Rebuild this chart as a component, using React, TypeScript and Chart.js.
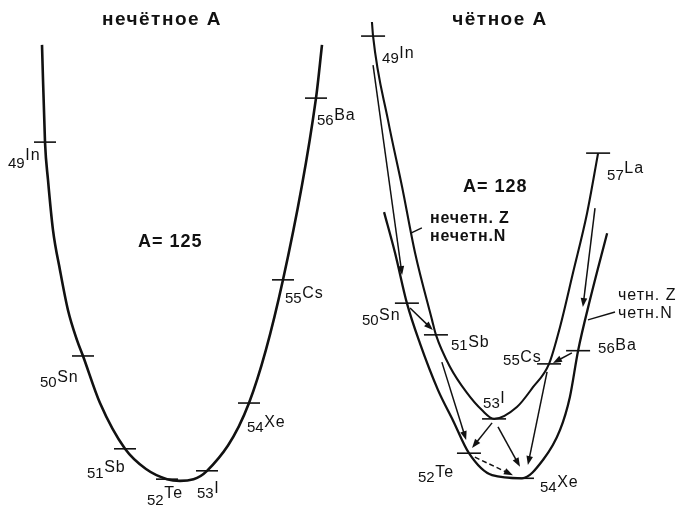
import React, { useEffect, useRef } from "react";
import { Chart, registerables } from "chart.js";
Chart.register(...registerables);

// ---------- Left panel: odd A (A = 125) ----------
const oddZ = [49, 50, 51, 52, 53, 54, 55, 56];
const oddSymbols = ["In", "Sn", "Sb", "Te", "I", "Xe", "Cs", "Ba"];
const oddTickPos = [49.0, 49.95, 51.0, 52.05, 53.05, 54.1, 54.95, 55.775];
const oddTickE = [7.77, 2.91, 0.8, 0.11, 0.3, 1.84, 4.64, 8.77];
const oddCurvePos = [48.925, 49.0, 49.075, 49.2, 49.375, 49.575, 49.8, 49.95, 50.375, 51.0, 51.525, 52.05, 52.375, 53.05, 54.1, 54.95, 55.775, 55.925];
const oddCurveE = [9.98, 7.77, 6.91, 5.77, 4.86, 3.95, 3.27, 2.91, 1.84, 0.8, 0.34, 0.11, 0.07, 0.3, 1.84, 4.64, 8.77, 9.98];

// ---------- Right panel: even A (A = 128) ----------
// odd Z / odd N parabola
const ooZ = [49, 51, 53, 55, 57];
const ooSymbols = ["In", "Sb", "I", "Cs", "La"];
const ooTickPos = [48.79, 51.02, 53.08, 55.03, 56.77];
const ooTickE = [10.18, 3.39, 1.48, 2.73, 7.52];
const ooCurvePos = [48.75, 48.79, 49.32, 49.82, 50.28, 50.88, 51.02, 51.52, 52.12, 52.65, 53.08, 53.89, 54.46, 55.03, 55.42, 55.88, 56.38, 56.77];
const ooCurveE = [10.5, 10.18, 8.27, 6.75, 5.25, 3.73, 3.39, 2.66, 2.07, 1.68, 1.48, 1.75, 2.2, 2.73, 3.57, 4.8, 6.16, 7.52];
// even Z / even N parabola
const eeZ = [50, 52, 54, 56];
const eeSymbols = ["Sn", "Te", "Xe", "Ba"];
const eeTickPos = [49.99, 52.19, 54.07, 56.06];
const eeTickE = [4.11, 0.7, 0.13, 3.03];
const eeCurvePos = [49.18, 49.57, 49.99, 50.45, 51.09, 51.62, 52.19, 53.01, 54.07, 54.82, 55.42, 55.77, 56.06, 56.48, 57.09];
const eeCurveE = [6.18, 5.25, 4.11, 3.2, 2.14, 1.45, 0.7, 0.2, 0.13, 0.55, 1.23, 1.98, 3.03, 4.18, 5.7];
// decay arrows
const arrowFromPos = [48.79, 50.1, 51.23, 53.01, 53.22, 52.4, 54.96, 55.84, 56.66];
const arrowFromE = [9.52, 4.0, 2.77, 1.39, 1.3, 0.61, 2.55, 2.98, 6.27];
const arrowToPos = [49.82, 50.91, 52.09, 52.3, 54.0, 53.75, 54.28, 55.17, 56.23];
const arrowToE = [4.75, 3.5, 1.0, 0.82, 0.39, 0.2, 0.43, 2.75, 4.02];
const arrowDashed = [false, false, false, false, false, true, false, false, false];
// leader lines for the parabola captions
const leaderFromPos = [50.52, 57.37];
const leaderFromE = [5.82, 3.91];
const leaderToPos = [50.13, 56.41];
const leaderToE = [5.7, 3.73];

// ---------- layout (styles / offsets, not data) ----------
const INK = "#111";
const FONT = '"Liberation Sans", Arial, sans-serif';
// label offsets: [dx of number, number baseline dy, symbol baseline dy]
const oddLabelOffsets = [[-37, 26, 18], [-43, 31, 26], [-38, 29, 23], [-20, 26, 19], [-10, 27, 22], [-2, 29, 24], [2, 23, 18], [1, 27, 22]];
const ooLabelOffsets = [[9, 27, 22], [15, 15, 12], [-11, -11, -16], [-46, 1, -2], [9, 27, 20]];
const eeLabelOffsets = [[-45, 22, 17], [-51, 29, 24], [18, 14, 9], [20, 2, -1]];

function pts(xs: number[], ys: number[]) {
  return xs.map((x, i) => ({ x, y: ys[i] }));
}

function drawArrow(ctx: CanvasRenderingContext2D, x1: number, y1: number, x2: number, y2: number, dashed: boolean) {
  const ang = Math.atan2(y2 - y1, x2 - x1);
  const head = 9;
  const half = 3.3;
  const c = Math.cos(ang), s = Math.sin(ang);
  ctx.save();
  ctx.strokeStyle = INK;
  ctx.fillStyle = INK;
  ctx.lineWidth = 1.5;
  if (dashed) ctx.setLineDash([5, 3]);
  ctx.beginPath();
  ctx.moveTo(x1, y1);
  ctx.lineTo(x2 - c * head * 0.7, y2 - s * head * 0.7);
  ctx.stroke();
  ctx.setLineDash([]);
  ctx.beginPath();
  ctx.moveTo(x2, y2);
  ctx.lineTo(x2 - head * c + half * s, y2 - head * s - half * c);
  ctx.lineTo(x2 - head * c - half * s, y2 - head * s + half * c);
  ctx.closePath();
  ctx.fill();
  ctx.restore();
}

type LabelSet = { z: number[]; sym: string[]; pos: number[]; e: number[]; off: number[][] };
type TextItem = { text: string; x: number; y: number; font: string; align?: CanvasTextAlign; spacing?: string };

function makePlugin(labels: LabelSet[], texts: TextItem[], arrows: boolean) {
  return {
    id: "decor",
    afterDatasetsDraw(chart: any) {
      const ctx: CanvasRenderingContext2D = chart.ctx;
      const xs = chart.scales.x;
      const ys = chart.scales.y;
      ctx.save();
      ctx.fillStyle = INK;
      ctx.strokeStyle = INK;
      ctx.textBaseline = "alphabetic";
      labels.forEach((set) => {
        set.z.forEach((z, i) => {
          const px = xs.getPixelForValue(set.pos[i]);
          const py = ys.getPixelForValue(set.e[i]);
          const [dx, ny, sy] = set.off[i];
          ctx.textAlign = "left";
          (ctx as any).letterSpacing = "0px";
          ctx.font = `15px ${FONT}`;
          const num = String(z);
          ctx.fillText(num, px + dx, py + ny);
          const w = ctx.measureText(num).width;
          ctx.font = `16px ${FONT}`;
          (ctx as any).letterSpacing = "1px";
          ctx.fillText(set.sym[i], px + dx + w + 0.5, py + sy);
        });
      });
      (ctx as any).letterSpacing = "0px";
      if (arrows) {
        arrowFromPos.forEach((fx, i) => {
          drawArrow(
            ctx,
            xs.getPixelForValue(fx),
            ys.getPixelForValue(arrowFromE[i]),
            xs.getPixelForValue(arrowToPos[i]),
            ys.getPixelForValue(arrowToE[i]),
            arrowDashed[i]
          );
        });
        ctx.lineWidth = 1.4;
        leaderFromPos.forEach((fx, i) => {
          ctx.beginPath();
          ctx.moveTo(xs.getPixelForValue(fx), ys.getPixelForValue(leaderFromE[i]));
          ctx.lineTo(xs.getPixelForValue(leaderToPos[i]), ys.getPixelForValue(leaderToE[i]));
          ctx.stroke();
        });
      }
      texts.forEach((t) => {
        ctx.font = t.font;
        ctx.textAlign = t.align || "left";
        (ctx as any).letterSpacing = t.spacing || "0px";
        ctx.fillText(t.text, t.x, t.y);
      });
      (ctx as any).letterSpacing = "0px";
      ctx.restore();
    },
  };
}

function curveDataset(xs: number[], ys: number[], width: number) {
  return {
    data: pts(xs, ys),
    showLine: true,
    borderColor: INK,
    borderWidth: width,
    pointRadius: 0,
    cubicInterpolationMode: "monotone" as const,
    fill: false,
    clip: false as const,
  };
}

function tickDataset(xs: number[], ys: number[], radius: number) {
  return {
    data: pts(xs, ys),
    showLine: false,
    pointStyle: "line" as const,
    pointRadius: radius,
    pointBorderWidth: 1.6,
    pointBorderColor: INK,
    pointBackgroundColor: INK,
    clip: false as const,
  };
}

function baseOptions(xmin: number, xmax: number) {
  return {
    animation: false as const,
    responsive: false,
    maintainAspectRatio: false,
    layout: { padding: 0, autoPadding: false },
    events: [] as any[],
    plugins: { legend: { display: false }, tooltip: { enabled: false } },
    scales: {
      x: { type: "linear" as const, min: xmin, max: xmax, display: false },
      y: { type: "linear" as const, min: -0.659, max: 11, display: false },
    },
  };
}

export default function App() {
  const leftRef = useRef<HTMLCanvasElement>(null);
  const rightRef = useRef<HTMLCanvasElement>(null);

  useEffect(() => {
    const left = new Chart(leftRef.current as HTMLCanvasElement, {
      type: "scatter",
      data: {
        datasets: [curveDataset(oddCurvePos, oddCurveE, 2.6) as any, tickDataset(oddTickPos, oddTickE, 11) as any],
      },
      options: baseOptions(47.875, 56.875) as any,
      plugins: [
        makePlugin(
          [{ z: oddZ, sym: oddSymbols, pos: oddTickPos, e: oddTickE, off: oddLabelOffsets }],
          [
            { text: "нечётное А", x: 162, y: 25, font: `bold 19px ${FONT}`, align: "center", spacing: "1.5px" },
            { text: "A= 125", x: 138, y: 247, font: `bold 18px ${FONT}`, spacing: "1px" },
          ],
          false
        ) as any,
      ],
    });
    const right = new Chart(rightRef.current as HTMLCanvasElement, {
      type: "scatter",
      data: {
        datasets: [
          curveDataset(ooCurvePos, ooCurveE, 2.1) as any,
          curveDataset(eeCurvePos, eeCurveE, 2.3) as any,
          tickDataset(ooTickPos, ooTickE, 12) as any,
          tickDataset(eeTickPos, eeTickE, 12) as any,
        ],
      },
      options: baseOptions(47.582, 59.603) as any,
      plugins: [
        makePlugin(
          [
            { z: ooZ, sym: ooSymbols, pos: ooTickPos, e: ooTickE, off: ooLabelOffsets },
            { z: eeZ, sym: eeSymbols, pos: eeTickPos, e: eeTickE, off: eeLabelOffsets },
          ],
          [
            { text: "чётное А", x: 161, y: 25, font: `bold 19px ${FONT}`, align: "center", spacing: "1.5px" },
            { text: "A= 128", x: 124, y: 192, font: `bold 18px ${FONT}`, spacing: "1px" },
            { text: "нечетн. Z", x: 91, y: 223, font: `bold 16px ${FONT}`, spacing: "0.8px" },
            { text: "нечетн.N", x: 91, y: 241, font: `bold 16px ${FONT}`, spacing: "0.8px" },
            { text: "четн. Z", x: 279, y: 300, font: `16px ${FONT}`, spacing: "1px" },
            { text: "четн.N", x: 279, y: 318, font: `16px ${FONT}`, spacing: "1px" },
          ],
          true
        ) as any,
      ],
    });
    return () => {
      left.destroy();
      right.destroy();
    };
  }, []);

  return (
    <div style={{ position: "absolute", left: 0, top: 0, width: 678, height: 513, background: "#fff", overflow: "hidden" }}>
      <canvas ref={leftRef} width={360} height={513} style={{ position: "absolute", left: 0, top: 0, width: 360, height: 513 }} />
      <canvas ref={rightRef} width={339} height={513} style={{ position: "absolute", left: 339, top: 0, width: 339, height: 513 }} />
    </div>
  );
}
